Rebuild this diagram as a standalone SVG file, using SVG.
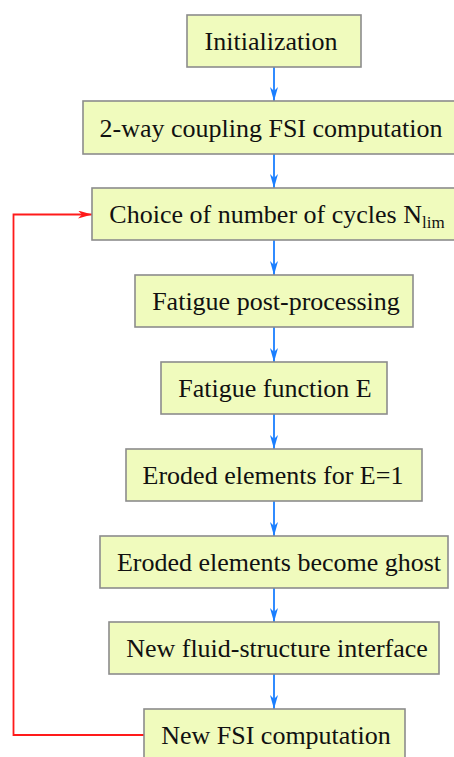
<svg xmlns="http://www.w3.org/2000/svg" width="454" height="757" viewBox="0 0 454 757">
<style>
.box{fill:#f0fbbd;stroke:#8c8c8c;stroke-width:1.6}
.t{font-family:"Liberation Serif","Times New Roman",serif;font-size:26px;fill:#111;text-anchor:middle}
.s{font-size:17px}
.blue{stroke:#1a7fff;stroke-width:1.8;fill:none}
.red{stroke:#ff1a1a;stroke-width:1.8;fill:none}
</style>
<defs>
<marker id="ab" markerWidth="14" markerHeight="8" refX="14" refY="4" orient="auto" markerUnits="userSpaceOnUse" viewBox="0 0 14 8">
<path d="M0,0 L14,4 L0,8 L4,4 Z" fill="#1a7fff"/>
</marker>
<marker id="ar" markerWidth="14" markerHeight="8" refX="14" refY="4" orient="auto" markerUnits="userSpaceOnUse" viewBox="0 0 14 8">
<path d="M0,0 L14,4 L0,8 L4,4 Z" fill="#ff1a1a"/>
</marker>
</defs>
<rect x="0" y="0" width="454" height="757" fill="#ffffff"/>
<g id="connectors">
<line class="blue" x1="274" y1="67" x2="274" y2="101" marker-end="url(#ab)"/>
<line class="blue" x1="274" y1="154" x2="274" y2="188" marker-end="url(#ab)"/>
<line class="blue" x1="274" y1="240" x2="274" y2="275" marker-end="url(#ab)"/>
<line class="blue" x1="274" y1="327" x2="274" y2="362" marker-end="url(#ab)"/>
<line class="blue" x1="274" y1="414" x2="274" y2="449" marker-end="url(#ab)"/>
<line class="blue" x1="274" y1="501" x2="274" y2="536" marker-end="url(#ab)"/>
<line class="blue" x1="274" y1="588" x2="274" y2="622" marker-end="url(#ab)"/>
<line class="blue" x1="274" y1="674" x2="274" y2="709" marker-end="url(#ab)"/>
<polyline class="red" points="144,735 13.5,735 13.5,214.5 92,214.5" marker-end="url(#ar)"/>
</g>
<g id="n1"><rect class="box" x="187" y="15" width="174" height="52"/><text class="t" x="271" y="50">Initialization</text></g>
<g id="n2"><rect class="box" x="83" y="101" width="372" height="53"/><text class="t" x="271" y="137">2-way coupling FSI computation</text></g>
<g id="n3"><rect class="box" x="92" y="188" width="364" height="52"/><text class="t" x="277" y="223">Choice of number of cycles N<tspan class="s" dy="5">lim</tspan></text></g>
<g id="n4"><rect class="box" x="135" y="275" width="278" height="52"/><text class="t" x="276" y="310">Fatigue post-processing</text></g>
<g id="n5"><rect class="box" x="161" y="362" width="226" height="52"/><text class="t" x="275" y="397">Fatigue function E</text></g>
<g id="n6"><rect class="box" x="126" y="449" width="296" height="52"/><text class="t" x="273" y="484">Eroded elements for E=1</text></g>
<g id="n7"><rect class="box" x="100" y="536" width="348" height="52"/><text class="t" x="279" y="571">Eroded elements become ghost</text></g>
<g id="n8"><rect class="box" x="109" y="622" width="330" height="52"/><text class="t" x="277" y="657">New fluid-structure interface</text></g>
<g id="n9"><rect class="box" x="144" y="709" width="261" height="60"/><text class="t" x="276" y="744">New FSI computation</text></g>
</svg>
